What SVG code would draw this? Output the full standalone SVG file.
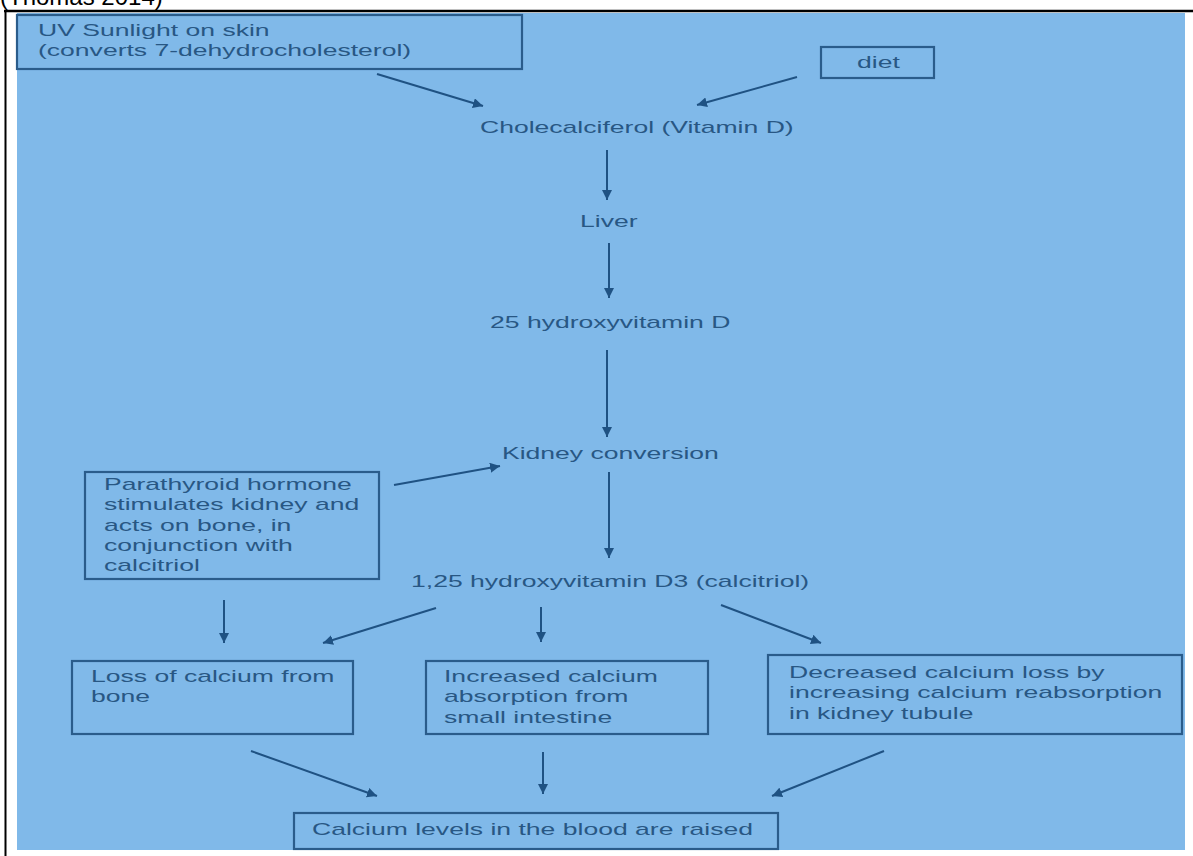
<svg xmlns="http://www.w3.org/2000/svg" width="1193" height="856" viewBox="0 0 1193 856">
<defs>
<style>
.t{font-family:"Liberation Sans",Arial,sans-serif;font-size:16px;fill:#285784}
.box{fill:none;stroke:#2a5c8b;stroke-width:2.2}
.c line{stroke:#1f5283;stroke-width:2;marker-end:url(#ah)}
</style>
<marker id="ah" markerUnits="userSpaceOnUse" markerWidth="12" markerHeight="10" refX="10" refY="5" orient="auto">
<path d="M0,0 L10,5 L0,10 Z" fill="#1f5283"/>
</marker>
</defs>
<rect width="1193" height="856" fill="#ffffff"/>
<text x="0" y="5" style="font-family:'Liberation Sans',Arial,sans-serif;font-size:24px;fill:#000">(Thomas 2014)</text>
<line x1="4" y1="11" x2="1193" y2="11" stroke="#000" stroke-width="2.5"/>
<line x1="5.5" y1="11" x2="5.5" y2="856" stroke="#000" stroke-width="2"/>
<rect x="17" y="13" width="1168" height="837" fill="#80b9e9"/>

<g id="uv"><rect class="box" x="17" y="15" width="505" height="54"/>
<text class="t" transform="matrix(1.66 0 0 1 38 36)"><tspan x="0" y="0">UV Sunlight on skin</tspan><tspan x="0" y="20">(converts 7-dehydrocholesterol)</tspan></text></g>
<g id="diet"><rect class="box" x="821" y="47" width="113" height="31"/>
<text class="t" transform="matrix(1.66 0 0 1 857 68)">diet</text></g>
<g id="chole"><text class="t" transform="matrix(1.66 0 0 1 480 133)">Cholecalciferol (Vitamin D)</text></g>
<g id="liver"><text class="t" transform="matrix(1.66 0 0 1 580 227)">Liver</text></g>
<g id="hydroxy25"><text class="t" transform="matrix(1.66 0 0 1 490 328)">25 hydroxyvitamin D</text></g>
<g id="kidney"><text class="t" transform="matrix(1.66 0 0 1 502 459)">Kidney conversion</text></g>
<g id="pth"><rect class="box" x="85" y="472" width="294" height="107"/>
<text class="t" transform="matrix(1.66 0 0 1 104 490)"><tspan x="0" y="0">Parathyroid hormone</tspan><tspan x="0" y="20.3">stimulates kidney and</tspan><tspan x="0" y="40.6">acts on bone, in</tspan><tspan x="0" y="60.9">conjunction with</tspan><tspan x="0" y="81.2">calcitriol</tspan></text></g>
<g id="calcitriol"><text class="t" transform="matrix(1.66 0 0 1 411 587)">1,25 hydroxyvitamin D3 (calcitriol)</text></g>
<g id="loss"><rect class="box" x="72" y="661" width="281" height="73"/>
<text class="t" transform="matrix(1.66 0 0 1 91 682)"><tspan x="0" y="0">Loss of calcium from</tspan><tspan x="0" y="20.5">bone</tspan></text></g>
<g id="increased"><rect class="box" x="426" y="661" width="282" height="73"/>
<text class="t" transform="matrix(1.66 0 0 1 444 682)"><tspan x="0" y="0">Increased calcium</tspan><tspan x="0" y="20.5">absorption from</tspan><tspan x="0" y="41">small intestine</tspan></text></g>
<g id="decreased"><rect class="box" x="768" y="655" width="414" height="79"/>
<text class="t" transform="matrix(1.66 0 0 1 789 678)"><tspan x="0" y="0">Decreased calcium loss by</tspan><tspan x="0" y="20.5">increasing calcium reabsorption</tspan><tspan x="0" y="41">in kidney tubule</tspan></text></g>
<g id="blood"><rect class="box" x="294" y="813" width="484" height="36"/>
<text class="t" transform="matrix(1.66 0 0 1 312 835)">Calcium levels in the blood are raised</text></g>

<g id="connectors" class="c">
<line x1="377" y1="74" x2="483" y2="106"/>
<line x1="797" y1="77" x2="697" y2="105"/>
<line x1="607" y1="150" x2="607" y2="200"/>
<line x1="609" y1="243" x2="609" y2="298"/>
<line x1="607" y1="350" x2="607" y2="437"/>
<line x1="394" y1="485" x2="500" y2="466"/>
<line x1="609" y1="472" x2="609" y2="558"/>
<line x1="224" y1="600" x2="224" y2="643"/>
<line x1="436" y1="608" x2="323" y2="643"/>
<line x1="541" y1="607" x2="541" y2="642"/>
<line x1="721" y1="605" x2="821" y2="643"/>
<line x1="251" y1="751" x2="377" y2="796"/>
<line x1="543" y1="752" x2="543" y2="794"/>
<line x1="884" y1="751" x2="772" y2="796"/>
</g>
</svg>
